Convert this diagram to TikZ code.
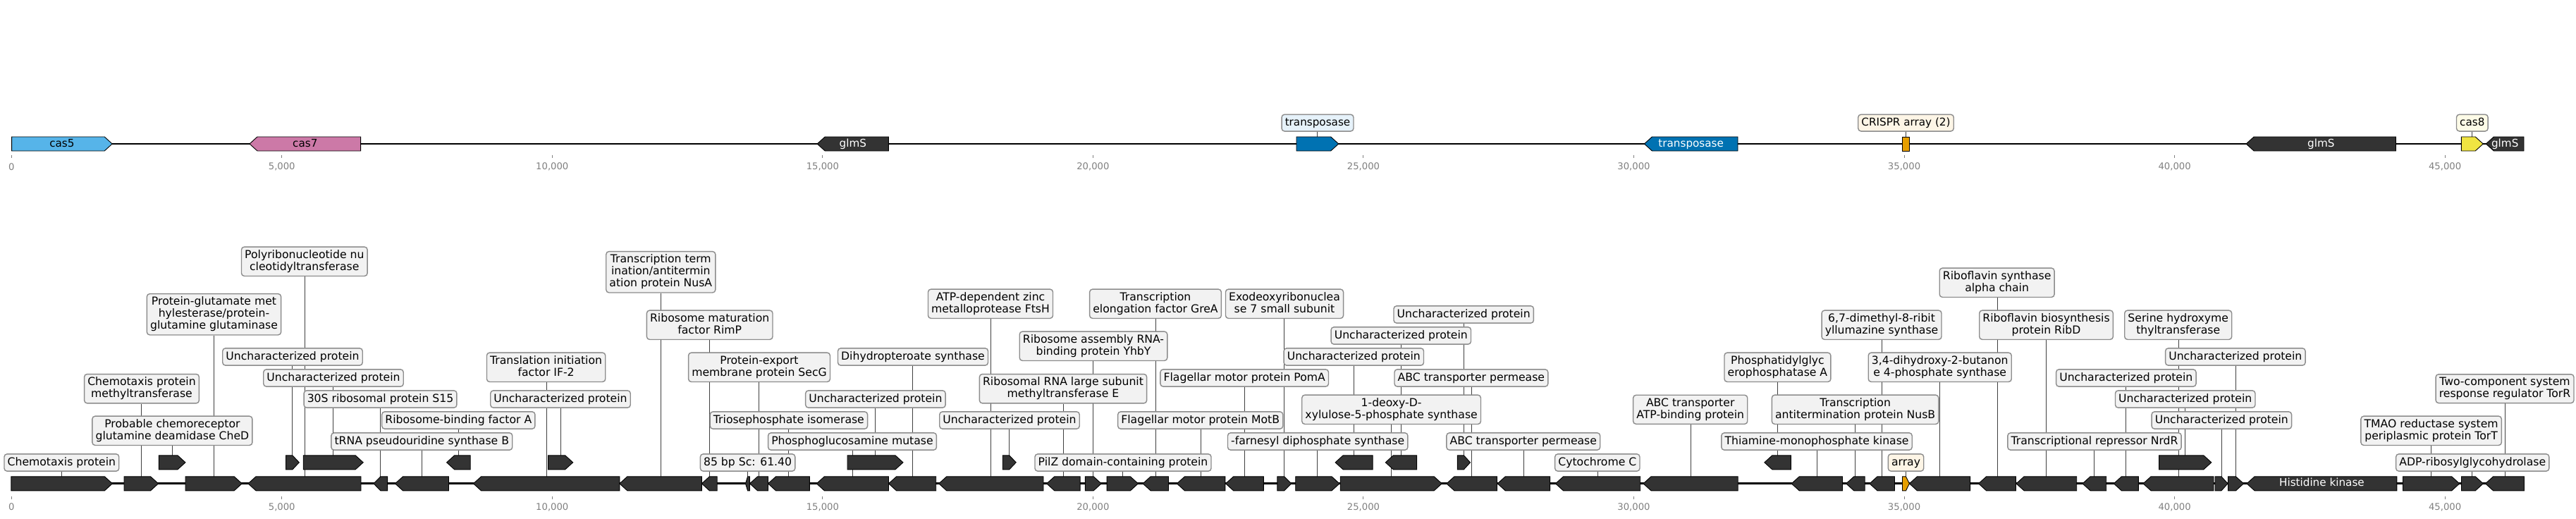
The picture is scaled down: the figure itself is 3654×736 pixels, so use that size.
\documentclass[tikz,border=0pt]{standalone}
\usepackage{fontspec}
\setmainfont{DejaVu Sans}
\usetikzlibrary{calc}
\pgfdeclarelayer{bg}
\pgfsetlayers{bg,main}
\definecolor{genedark}{HTML}{333333}
\definecolor{boxfill}{HTML}{F2F2F2}
\definecolor{boxedge}{HTML}{8C8C8C}
\definecolor{casfive}{HTML}{56B4E9}
\definecolor{casseven}{HTML}{CC79A7}
\definecolor{transp}{HTML}{0072B2}
\definecolor{crispr}{HTML}{E69F00}
\definecolor{caseight}{HTML}{F0E442}
\definecolor{lblue}{HTML}{E6F2FA}
\definecolor{lcream}{HTML}{FDF5E6}
\definecolor{lyellow}{HTML}{FDFBE7}
\definecolor{tickgray}{HTML}{808080}
\newcommand\lstrut{\rule[-3.7pt]{0pt}{15.6pt}}
\tikzset{
 lab/.style={draw=boxedge, fill=boxfill, line width=1.4pt, rounded corners=4pt,
   inner xsep=4.7pt, inner ysep=4.35pt, align=center, text=black,
   font=\fontsize{15.65}{17}\selectfont,
   execute at begin node=\lstrut, execute at end node=\lstrut},
 toplab/.style={lab, inner ysep=4.05pt, font=\fontsize{15.2}{17}\selectfont},
 lead/.style={draw=black!75, line width=1pt},
 gn/.style={draw=black, line width=0.9pt, fill=genedark},
 tickmark/.style={draw=tickgray, line width=1pt},
 ticklab/.style={text=tickgray, font=\fontsize{13.2}{15}\selectfont, inner sep=0pt},
 gtext/.style={font=\fontsize{15.2}{17}\selectfont, inner sep=0pt, execute at begin node=\lstrut},
}
% gene arrows: name, x1, x2, yc, fill
\newcommand\geneR[5]{%
 \pgfmathsetmacro\gnHL{min(11,(#3-#2)/2)}%
 \filldraw[gn, fill=#5] (#2,#4-10) -- ({#3-\gnHL},#4-10) -- (#3,#4) -- ({#3-\gnHL},#4+10) -- (#2,#4+10) -- cycle;
 \coordinate (#1) at ({(#2+#3)/2},#4-10);}
\newcommand\geneL[5]{%
 \pgfmathsetmacro\gnHL{min(11,(#3-#2)/2)}%
 \filldraw[gn, fill=#5] (#3,#4-10) -- ({#2+\gnHL},#4-10) -- (#2,#4) -- ({#2+\gnHL},#4+10) -- (#3,#4+10) -- cycle;
 \coordinate (#1) at ({(#2+#3)/2},#4-10);}
\newcommand\geneN[5]{%
 \filldraw[gn, fill=#5] (#2,#4-10) rectangle (#3,#4+10);
 \coordinate (#1) at ({(#2+#3)/2},#4-10);}
\begin{document}
\begin{tikzpicture}[x=1pt,y=-1pt]
\useasboundingbox (0,0) rectangle (3654,736);
% track lines
\draw[line width=2.7pt] (16.6,204) -- (3580,204);
\draw[line width=2.7pt] (15.8,685.8) -- (3580.5,685.8);
% axis ticks
\foreach \k/\lab in {0/0,1/{5,000},2/{10,000},3/{15,000},4/{20,000},5/{25,000},6/{30,000},7/{35,000},8/{40,000},9/{45,000}}{
 \draw[tickmark] ({16.2+383.55*\k},219.5) -- ++(0,4);
 \node[ticklab] (tt\k) at ({16.2+383.55*\k},236.7) {\lab};
 \draw[tickmark] ({16.2+383.55*\k},703.5) -- ++(0,4);
 \node[ticklab] (tb\k) at ({16.2+383.55*\k},719) {\lab};
}
% ---------- top track ----------
\geneR{c5}{16.6}{159.2}{204}{casfive}
\geneL{c7}{354}{511.6}{204}{casseven}
\geneL{gA}{1159.2}{1260.4}{204}{genedark}
\geneR{tr1}{1839}{1898.7}{204}{transp}
\geneL{tr2}{2332.4}{2465}{204}{transp}
\geneN{cr}{2698.1}{2708.9}{204}{crispr}
\geneL{gB}{3186.1}{3398.5}{204}{genedark}
\geneR{c8}{3491.3}{3522.2}{204}{caseight}
\geneL{gC}{3526.3}{3580}{204}{genedark}
\node[gtext] (tc5) at (87.9,204) {cas5};
\node[gtext] (tc7) at (432.8,204) {cas7};
\node[gtext, text=white] (tgA) at (1209.8,204) {glmS};
\node[gtext, text=white] (ttr2) at (2398.7,204) {transposase};
\node[gtext, text=white] (tgB) at (3292.3,204) {glmS};
\node[gtext, text=white] (tgC) at (3553.2,204) {glmS};
\node[toplab, fill=lblue] (ta) at (1869,174.2) {transposase};
\node[toplab, fill=lcream] (tb) at (2703.5,174.2) {CRISPR array (2)};
\node[toplab, fill=lyellow] (tc) at (3506.8,174.2) {cas8};
% ---------- bottom track, row 0 ----------
\def\ya{685.8}
\geneR{g1}{15.8}{159.4}{\ya}{genedark}
\geneR{g2}{176}{224.6}{\ya}{genedark}
\geneR{g3}{263}{343.2}{\ya}{genedark}
\geneL{g4}{352}{512}{\ya}{genedark}
\geneL{g5}{530}{549.6}{\ya}{genedark}
\geneL{g6}{560.5}{636.5}{\ya}{genedark}
\geneL{g7}{671.5}{878.8}{\ya}{genedark}
\geneL{g8}{878.8}{995.4}{\ya}{genedark}
\geneL{g9}{995.4}{1017.2}{\ya}{genedark}
\geneL{g10}{1057.5}{1063.5}{\ya}{genedark}
\geneL{g11}{1063.5}{1089.5}{\ya}{genedark}
\geneL{g12}{1089.5}{1148.4}{\ya}{genedark}
\geneL{g13}{1158.3}{1260.5}{\ya}{genedark}
\geneL{g14}{1260.5}{1327.7}{\ya}{genedark}
\geneL{g15}{1331.7}{1480}{\ya}{genedark}
\geneL{g16}{1484.7}{1532.1}{\ya}{genedark}
\geneR{g17}{1539.3}{1562.2}{\ya}{genedark}
\geneR{g18}{1570.1}{1614.4}{\ya}{genedark}
\geneL{g19}{1621.1}{1657.5}{\ya}{genedark}
\geneL{g20}{1669.4}{1737.8}{\ya}{genedark}
\geneL{g21}{1738.6}{1792.3}{\ya}{genedark}
\geneR{g22}{1811.8}{1831.7}{\ya}{genedark}
\geneR{g23}{1837.7}{1900}{\ya}{genedark}
\geneR{g24}{1901.2}{2045.2}{\ya}{genedark}
\geneL{g25}{2051.9}{2123.5}{\ya}{genedark}
\geneL{g26}{2124.2}{2198.6}{\ya}{genedark}
\geneL{g27}{2206.5}{2326.7}{\ya}{genedark}
\geneL{g28}{2331}{2465.2}{\ya}{genedark}
\geneL{g29}{2541.2}{2613.5}{\ya}{genedark}
\geneL{g30}{2618.7}{2645.2}{\ya}{genedark}
\geneL{g31}{2651.9}{2687.5}{\ya}{genedark}
\geneR{g32}{2698.5}{2708.4}{\ya}{crispr}
\geneL{g33}{2708.4}{2794.6}{\ya}{genedark}
\geneL{g34}{2806.5}{2859.5}{\ya}{genedark}
\geneL{g35}{2860}{2945.7}{\ya}{genedark}
\geneL{g36}{2954}{2987.7}{\ya}{genedark}
\geneL{g37}{2998.3}{3033.3}{\ya}{genedark}
\geneL{g38}{3040}{3140}{\ya}{genedark}
\geneR{g39}{3142}{3160}{\ya}{genedark}
\geneR{g40}{3160.5}{3182.5}{\ya}{genedark}
\geneL{g41}{3187}{3399.8}{\ya}{genedark}
\geneR{g42}{3408.5}{3488.7}{\ya}{genedark}
\geneR{g43}{3491.5}{3522.3}{\ya}{genedark}
\geneL{g44}{3525.5}{3580.5}{\ya}{genedark}
\node[gtext, text=white] (thk) at (3293.4,\ya) {Histidine kinase};
% ---------- bottom track, row 1 ----------
\def\yb{655.8}
\geneR{u1}{225.4}{263}{\yb}{genedark}
\geneR{u2}{405.5}{424.3}{\yb}{genedark}
\geneR{u3}{430.2}{515.2}{\yb}{genedark}
\geneL{u4}{633.6}{667.2}{\yb}{genedark}
\geneR{u5}{777.5}{812.7}{\yb}{genedark}
\geneR{u6}{1202}{1281}{\yb}{genedark}
\geneR{u7}{1422.2}{1441.2}{\yb}{genedark}
\geneL{u8}{1894.1}{1947.1}{\yb}{genedark}
\geneL{u9}{1965.3}{2009.6}{\yb}{genedark}
\geneR{u10}{2067.3}{2085.5}{\yb}{genedark}
\geneL{u11}{2502.8}{2540.4}{\yb}{genedark}
\geneR{u12}{3062.6}{3136.8}{\yb}{genedark}
% ---------- labels ----------
\node[lab] (l1) at (87.4,656) {Chemotaxis protein};
\node[lab] (l2) at (201,551.2) {Chemotaxis protein\\methyltransferase};
\node[lab] (l3) at (244.4,610.8) {Probable chemoreceptor\\glutamine deamidase CheD};
\node[lab] (l4) at (303.5,445.8) {Protein-glutamate met\\hylesterase/protein-\\glutamine glutaminase};
\node[lab] (l5) at (431.8,370.8) {Polyribonucleotide nu\\cleotidyltransferase};
\node[lab] (l6) at (415,506) {Uncharacterized protein};
\node[lab] (l7) at (473,536) {Uncharacterized protein};
\node[lab] (l8) at (539.5,566) {30S ribosomal protein S15};
\node[lab] (l9) at (650.3,596) {Ribosome-binding factor A};
\node[lab] (l10) at (598.3,626) {tRNA pseudouridine synthase B};
\node[lab] (l11) at (774.6,520.8) {Translation initiation\\factor IF-2};
\node[lab] (l12) at (795,566) {Uncharacterized protein};
\node[lab] (l13) at (937.3,385.8) {Transcription term\\ination/antitermin\\ation protein NusA};
\node[lab] (l14) at (1006.7,460.8) {Ribosome maturation\\factor RimP};
\node[lab] (l15) at (1077,520.8) {Protein-export\\membrane protein SecG};
\node[lab] (l16) at (1060.6,656) {85 bp Sc: 61.40};
\node[lab] (l17) at (1118.9,596) {Triosephosphate isomerase};
\node[lab] (l18) at (1209,626) {Phosphoglucosamine mutase};
\node[lab] (l19) at (1295,506) {Dihydropteroate synthase};
\node[lab] (l20) at (1241.9,566) {Uncharacterized protein};
\node[lab] (l21) at (1405,430.8) {ATP-dependent zinc\\metalloprotease FtsH};
\node[lab] (l22) at (1432,596) {Uncharacterized protein};
\node[lab] (l23) at (1508,551.2) {Ribosomal RNA large subunit\\methyltransferase E};
\node[lab] (l24) at (1551,490.8) {Ribosome assembly RNA-\\binding protein YhbY};
\node[lab] (l25) at (1593,656) {PilZ domain-containing protein};
\node[lab] (l26) at (1639,430.8) {Transcription\\elongation factor GreA};
\node[lab] (l27) at (1702.7,596) {Flagellar motor protein MotB};
\node[lab] (l28) at (1765.2,536) {Flagellar motor protein PomA};
\node[lab] (l29) at (1822,430.8) {Exodeoxyribonuclea\\se 7 small subunit};
\node[lab] (l30) at (1869.2,626) {-farnesyl diphosphate synthase};
\node[lab] (l31) at (1973.6,580.8) {1-deoxy-D-\\xylulose-5-phosphate synthase};
\node[lab] (l32) at (1920.3,506) {Uncharacterized protein};
\node[lab] (l33) at (1987.3,476) {Uncharacterized protein};
\node[lab] (l34) at (2076.2,446) {Uncharacterized protein};
\node[lab] (l35) at (2086.9,536) {ABC transporter permease};
\node[lab] (l36) at (2160.8,626) {ABC transporter permease};
\node[lab] (l37) at (2265.8,656) {Cytochrome C};
\node[lab] (l38) at (2397.7,580.8) {ABC transporter\\ATP-binding protein};
\node[lab] (l39) at (2521.4,520.8) {Phosphatidylglyc\\erophosphatase A};
\node[lab] (l40) at (2577,626) {Thiamine-monophosphate kinase};
\node[lab] (l41) at (2631.6,580.8) {Transcription\\antitermination protein NusB};
\node[lab] (l42) at (2669,460.8) {6,7-dimethyl-8-ribit\\yllumazine synthase};
\node[lab, fill=lcream] (l43) at (2703.5,656) {array};
\node[lab] (l44) at (2751.7,520.8) {3,4-dihydroxy-2-butanon\\e 4-phosphate synthase};
\node[lab] (l45) at (2832.6,400.8) {Riboflavin synthase\\alpha chain};
\node[lab] (l46) at (2902.5,460.8) {Riboflavin biosynthesis\\protein RibD};
\node[lab] (l47) at (2971,626) {Transcriptional repressor NrdR};
\node[lab] (l48) at (3015.8,536) {Uncharacterized protein};
\node[lab] (l49) at (3089.7,460.8) {Serine hydroxyme\\thyltransferase};
\node[lab] (l50) at (3099.7,566) {Uncharacterized protein};
\node[lab] (l51) at (3151.3,596) {Uncharacterized protein};
\node[lab] (l52) at (3170.8,506) {Uncharacterized protein};
\node[lab] (l53) at (3448.6,610.8) {TMAO reductase system\\periplasmic protein TorT};
\node[lab] (l54) at (3507.2,656) {ADP-ribosylglycohydrolase};
\node[lab] (l55) at (3553,551.2) {Two-component system\\response regulator TorR};
% ---------- leader lines ----------
\begin{pgfonlayer}{bg}
\foreach \g/\l in {tr1/ta, cr/tb, c8/tc,
  g1/l1, g2/l2, u1/l3, g3/l4, g4/l5, u2/l6, u3/l7, g5/l8, u4/l9, g6/l10,
  g7/l11, u5/l12, g8/l13, g9/l14, g11/l15, g10/l16, g12/l17, g13/l18, g14/l19,
  u6/l20, g15/l21, u7/l22, g16/l23, g17/l24, g18/l25, g19/l26, g20/l27, g21/l28,
  g22/l29, g23/l30, g24/l31, u8/l32, u9/l33, u10/l34, g25/l35, g26/l36, g27/l37,
  g28/l38, u11/l39, g29/l40, g30/l41, g31/l42, g32/l43, g33/l44, g34/l45, g35/l46,
  g36/l47, g37/l48, g38/l49, u12/l50, g39/l51, g40/l52, g42/l53, g43/l54, g44/l55}
  \draw[lead] (\g) -- (\g |- \l.south);
\end{pgfonlayer}
\end{tikzpicture}
\end{document}
